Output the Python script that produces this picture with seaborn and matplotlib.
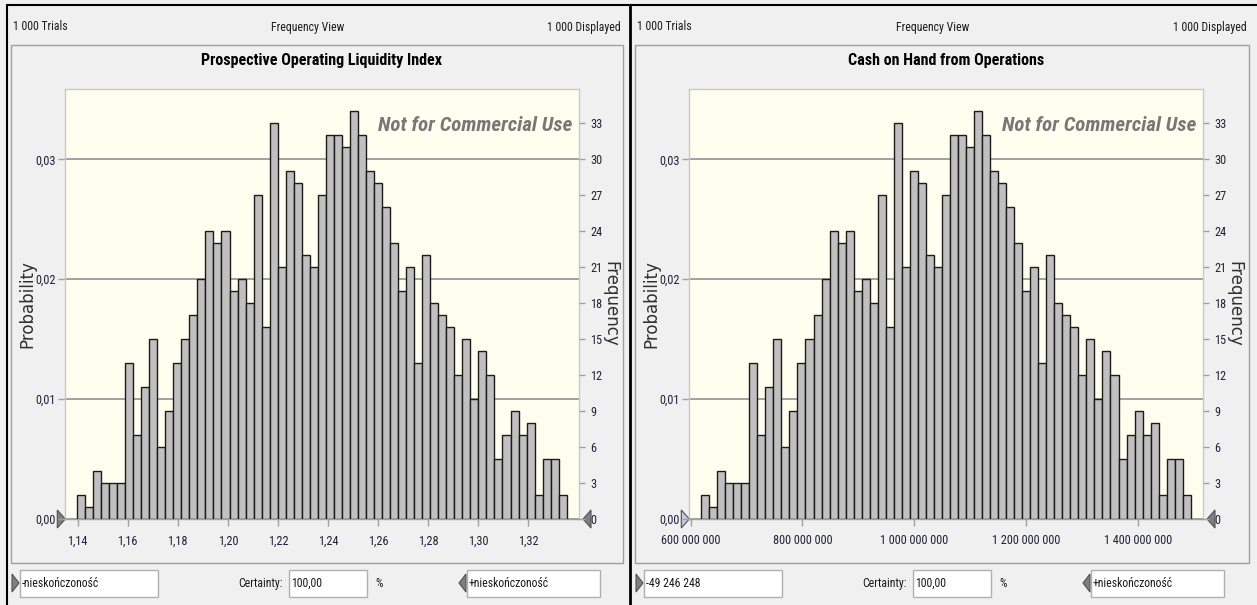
import numpy as np
import pandas as pd
import matplotlib
matplotlib.use('Agg')
import matplotlib.pyplot as plt
from matplotlib import font_manager
from matplotlib.patches import Rectangle, Polygon
from matplotlib.ticker import FuncFormatter, FixedLocator
import seaborn as sns

# frequency counts per bin (1000 trials), same for both forecasts
counts = [2, 1, 4, 3, 3, 3, 13, 7, 11, 15, 6, 9, 13, 15, 17, 20, 24, 23, 24, 19,
          20, 18, 27, 16, 33, 21, 29, 28, 22, 21, 27, 32, 32, 31, 34, 32, 29, 28, 26, 23,
          19, 21, 13, 22, 18, 17, 16, 12, 15, 10, 14, 12, 5, 7, 9, 7, 8, 2, 5, 5, 2]
n_trials = 1000

# bin ranges
liq_range = (1.13976, 1.33532)
cash_range = (618.7e6, 1494.8e6)

liq_ticks = [1.14, 1.16, 1.18, 1.20, 1.22, 1.24, 1.26, 1.28, 1.30, 1.32]
cash_ticks = [600e6, 800e6, 1000e6, 1200e6, 1400e6]
liq_xlim = (1.13509, 1.34023)
cash_xlim = (597.5e6, 1516.7e6)

titles = ['Prospective Operating Liquidity Index', 'Cash on Hand from Operations']
left_fields = ['-nieskończoność', '-49 246 248']
right_field = '+nieskończoność'
certainty = '100,00'

prob_ticks = [0.0, 0.01, 0.02, 0.03]
freq_ticks = list(range(0, 34, 3))
prob_top = 0.03586

sns.set_style("white")

# look for a narrow sans face (the UI text is Arial Narrow-like)
entries = font_manager.fontManager.ttflist
names = {f.name for f in entries}
narrow = None
for cand in ['Liberation Sans Narrow', 'Arial Narrow', 'Roboto Condensed', 'Open Sans Condensed']:
    if cand in names:
        narrow = ([cand, 'DejaVu Sans'], 'normal')
        break
if narrow is None:
    for fam in ['Noto Sans', 'Roboto', 'Open Sans', 'Inter']:
        if any(f.name == fam and str(f.stretch) in ('condensed', 'semi-condensed', '500', '400', '300')
               and str(f.stretch) != 'normal' for f in entries):
            narrow = ([fam, 'DejaVu Sans'], 'condensed')
            break

if narrow is not None:
    plt.rcParams['font.family'] = narrow[0]
    plt.rcParams['font.stretch'] = narrow[1]
    fs_head, fs_tick, fs_title, fs_wm = 8.5, 8.8, 11.5, 15
else:
    plt.rcParams['font.family'] = ['Liberation Sans', 'DejaVu Sans']
    fs_head, fs_tick, fs_title, fs_wm = 7.8, 8.3, 10.5, 13
REG = ['DejaVu Sans']

W, H = 1257, 605
fig = plt.figure(figsize=(W / 100, H / 100), dpi=100)
fig.patch.set_facecolor('#f0f0f0')

# pixel-space background layer for the window chrome
bg = fig.add_axes([0, 0, 1, 1])
bg.set_xlim(0, W)
bg.set_ylim(H, 0)
bg.axis('off')
bg.set_zorder(-5)

txt_col = '#1a1a1a'
tick_col = '#20203a'


def fmt_pl(v, dec):
    s = f'{v:,.{dec}f}'
    return s.replace(',', ' ').replace('.', ',')


def panel(x0, x1, data_range, ticks, xlim, tick_dec, title, left_field, light_grab):
    # header row
    bg.text(x0 + 6, 27, '1 000 Trials', fontsize=fs_head, va='center', ha='left', color=txt_col)
    bg.text((x0 + x1) / 2 - 11, 27, 'Frequency View', fontsize=fs_head, va='center', ha='center', color=txt_col)
    bg.text(x1 - 9, 27, '1 000 Displayed', fontsize=fs_head, va='center', ha='right', color=txt_col)
    # inner chart box
    bg.add_patch(Rectangle((x0 + 4, 45), (x1 - x0) - 11, 518, fc='#f0f0f0', ec='#a0a0a0', lw=1))
    bg.text((x0 + x1) / 2 + 3, 60, title, fontsize=fs_title, fontweight='bold', ha='center', va='center',
            color='black')

    # bottom control row
    bx = x0 + 13
    bg.add_patch(Polygon([[bx - 8, 574], [bx - 1, 583], [bx - 8, 592]], closed=True, fc='#808080', ec='#505050', lw=0.8))
    bg.add_patch(Rectangle((bx, 570), 138, 27, fc='white', ec='#b0b0b0', lw=1))
    bg.text(bx + 2, 583.5, left_field, fontsize=fs_head, va='center', ha='left', color=txt_col)
    bg.text(x0 + 276, 583.5, 'Certainty:', fontsize=fs_head, va='center', ha='right', color=txt_col)
    bg.add_patch(Rectangle((x0 + 282, 570), 78, 27, fc='white', ec='#b0b0b0', lw=1))
    bg.text(x0 + 284, 583.5, certainty, fontsize=fs_head, va='center', ha='left', color=txt_col)
    bg.text(x0 + 372, 583.5, '%', fontsize=fs_head, va='center', ha='center', color=txt_col)
    rx = x0 + 460
    bg.add_patch(Polygon([[rx - 1, 574], [rx - 8, 583], [rx - 1, 592]], closed=True, fc='#808080', ec='#505050', lw=0.8))
    bg.add_patch(Rectangle((rx, 570), 133, 27, fc='white', ec='#b0b0b0', lw=1))
    bg.text(rx + 2, 583.5, right_field, fontsize=fs_head, va='center', ha='left', color=txt_col)

    # plot area (pixels)
    px0, px1 = x0 + 58.3, x0 + 572
    py_top, py_bot = 89, 519
    ax = fig.add_axes([px0 / W, (H - py_bot) / H, (px1 - px0) / W, (py_bot - py_top) / H])
    ax.set_facecolor('#fffff0')

    edges = np.linspace(data_range[0], data_range[1], len(counts) + 1)
    centers = (edges[:-1] + edges[1:]) / 2
    df = pd.DataFrame({'value': centers, 'count': counts})
    sns.histplot(data=df, x='value', weights='count', bins=edges.tolist(), stat='probability',
                 color='#c0c0c0', edgecolor='#1a1a1a', linewidth=1.0, alpha=1, ax=ax, zorder=3)

    ax.set_xlim(*xlim)
    ax.set_ylim(0, prob_top)
    ax.set_axisbelow(True)
    ax.yaxis.set_major_locator(FixedLocator(prob_ticks))
    ax.yaxis.set_major_formatter(FuncFormatter(lambda v, p: fmt_pl(v, 2)))
    ax.xaxis.set_major_locator(FixedLocator(ticks))
    ax.xaxis.set_major_formatter(FuncFormatter(lambda v, p: fmt_pl(v, tick_dec)))
    ax.grid(axis='y', color='#a0a0a0', linewidth=1.4)
    ax.grid(axis='x', visible=False)
    ax.tick_params(axis='y', length=5, width=1, color='#a0a0a0', labelsize=fs_tick, labelcolor=tick_col, pad=2,
                   left=True)
    ax.tick_params(axis='x', length=5, width=1, color='#a0a0a0', labelsize=fs_tick, labelcolor=tick_col, pad=6,
                   bottom=True)
    for s in ax.spines.values():
        s.set_color('#c8c8c8')
        s.set_linewidth(1)
    ax.spines['bottom'].set_color('#a0a0a0')
    ax.set_xlabel('')
    ax.set_ylabel('Probability', family=REG, fontsize=12, color='#303030', ha='center', va='center')
    ax.yaxis.set_label_coords(-0.0746, 0.5)

    ax2 = ax.twinx()
    ax2.set_ylim(0, prob_top * n_trials)
    ax2.yaxis.set_major_locator(FixedLocator(freq_ticks))
    ax2.tick_params(axis='y', length=4, width=1, color='#a0a0a0', labelsize=fs_tick, labelcolor=tick_col, pad=4,
                    right=True)
    for s in ax2.spines.values():
        s.set_visible(False)
    ax2.set_ylabel('Frequency', family=REG, fontsize=12, color='#303030', rotation=-90, ha='center', va='center')
    ax2.yaxis.set_label_coords(1.0613, 0.5)

    ax.text(0.988, 0.916, 'Not for Commercial Use', transform=ax.transAxes, ha='right', va='center',
            fontsize=fs_wm, fontweight='bold', style='italic', color='#777777', zorder=5)

    # certainty grabbers on the baseline
    gl = '#c8c8e0' if light_grab else '#808080'
    bg.add_patch(Polygon([[px0 - 8, py_bot - 9], [px0, py_bot], [px0 - 8, py_bot + 9]], closed=True,
                         fc=gl, ec='#505050', lw=0.8, zorder=10))
    bg.add_patch(Polygon([[px1 + 12, py_bot - 9], [px1 + 4, py_bot], [px1 + 12, py_bot + 9]], closed=True,
                         fc='#808080', ec='#505050', lw=0.8, zorder=10))
    return ax


panel(7, 630, liq_range, liq_ticks, liq_xlim, 2, titles[0], left_fields[0], False)
panel(631, 1256, cash_range, cash_ticks, cash_xlim, 0, titles[1], left_fields[1], True)

# window borders
bg.plot([7, 7], [5, H], color='black', lw=1.5)
bg.plot([630, 630], [5, H], color='black', lw=2)
bg.plot([7, W], [5, 5], color='black', lw=1.5)

fig.savefig('out.png', dpi=100, facecolor=fig.get_facecolor())
